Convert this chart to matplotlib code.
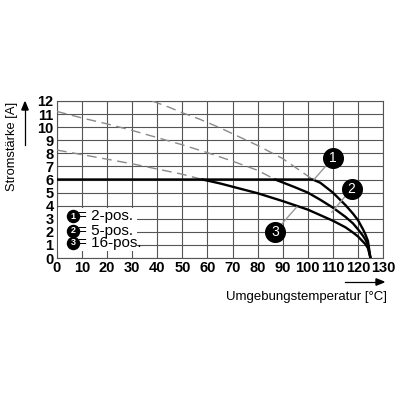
import numpy as np
import matplotlib.pyplot as plt

plt.rcParams['font.family'] = ['Liberation Sans', 'DejaVu Sans']

# curve 1 (2-pos.)
t1_dash = [38, 45, 50, 57, 65, 70, 80, 90, 102]
i1_dash = [12.0, 11.5, 11.1, 10.6, 9.95, 9.5, 8.6, 7.6, 6.0]
t1 = [0, 102, 105, 110, 115, 118, 120, 122, 123, 124, 125]
i1 = [6.0, 6.0, 5.75, 5.0, 4.05, 3.4, 2.9, 2.2, 1.8, 1.3, 0.0]

# curve 2 (5-pos.)
t2_dash = [0, 10, 20, 30, 40, 50, 60, 70, 80, 87]
i2_dash = [11.2, 10.7, 10.25, 9.75, 9.2, 8.65, 8.05, 7.4, 6.7, 6.0]
t2 = [87, 95, 100, 105, 110, 115, 118, 120, 122, 123, 124, 125]
i2 = [6.0, 5.4, 5.0, 4.45, 3.85, 3.15, 2.65, 2.2, 1.7, 1.4, 1.0, 0.0]

# curve 3 (16-pos.)
t3_dash = [0, 10, 20, 30, 40, 50, 58]
i3_dash = [8.25, 7.9, 7.55, 7.2, 6.8, 6.4, 6.0]
t3 = [58, 65, 70, 80, 90, 100, 110, 115, 118, 120, 122, 123, 124, 125]
i3 = [6.0, 5.7, 5.45, 4.95, 4.35, 3.7, 2.85, 2.35, 1.95, 1.65, 1.25, 1.05, 0.75, 0.0]

legend_txt = ['= 2-pos.', '= 5-pos.', '= 16-pos.']
xticks = np.arange(0, 131, 10)
yticks = np.arange(0, 13, 1)

fig = plt.figure(figsize=(4, 4), dpi=100)
ax = fig.add_axes([0.1425, 0.355, 0.815, 0.3925])
ax.set_xlim(0, 130)
ax.set_ylim(0, 12)
ax.set_xticks(xticks)
ax.set_yticks(yticks)
ax.grid(True, color='#555555', lw=0.8)
for s in ax.spines.values():
    s.set_color('#555555')
    s.set_linewidth(0.8)
ax.tick_params(length=0, pad=2.5, labelsize=10.5)
for lb in ax.get_xticklabels() + ax.get_yticklabels():
    lb.set_fontweight('bold')

dash_kw = dict(color='#8a8a8a', lw=1.0, dashes=(7, 4), zorder=3)
ax.plot(t1_dash, i1_dash, **dash_kw)
ax.plot(t2_dash, i2_dash, **dash_kw)
ax.plot(t3_dash, i3_dash, **dash_kw)
ax.plot(t1, i1, color='black', lw=1.7, zorder=4)
ax.plot(t2, i2, color='black', lw=1.7, zorder=4)
ax.plot(t3, i3, color='black', lw=1.7, zorder=4)

# legend box
ax.add_patch(plt.Rectangle((0.4, 0.5), 31.5, 3.3, facecolor='white', edgecolor='none', zorder=5))
for k, (y, txt) in enumerate(zip([3.2, 2.1, 1.15], legend_txt)):
    ax.scatter([6.4], [y], s=75, color='black', zorder=6)
    ax.text(6.4, y, str(k + 1), color='white', fontsize=6.5, fontweight='bold',
            ha='center', va='center', zorder=7)
    ax.text(8.2, y, txt, fontsize=11, ha='left', va='center', zorder=7)

# callouts
callouts = [(110, 7.65, 102.5, 6.0), (117.5, 5.3, 109.6, 3.5), (86.9, 2.0, 95.6, 3.9)]
for k, (cx, cy, px, py) in enumerate(callouts):
    ax.plot([cx, px], [cy, py], color='#999999', lw=1.0, zorder=5)
    ax.scatter([cx], [cy], s=200, color='black', zorder=6, clip_on=False)
    ax.text(cx, cy, str(k + 1), color='white', fontsize=10, ha='center', va='center', zorder=7)

# axis labels with arrows
fig.text(0.03, 0.635, 'Stromstärke [A]', rotation=90, fontsize=9.3, ha='center', va='center')
fig.add_artist(plt.Line2D([0.0625, 0.0625], [0.6375, 0.73], color='black', lw=0.9))
fig.text(0.765, 0.257, 'Umgebungstemperatur [°C]', fontsize=9.5, ha='center', va='center')
fig.add_artist(plt.Line2D([0.862, 0.945], [0.295, 0.295], color='black', lw=0.9))
fig.patches.append(plt.Polygon([[0.0545, 0.725], [0.0705, 0.725], [0.0625, 0.745]],
                               closed=True, color='black', transform=fig.transFigure, figure=fig))
fig.patches.append(plt.Polygon([[0.94, 0.287], [0.94, 0.303], [0.96, 0.295]],
                               closed=True, color='black', transform=fig.transFigure, figure=fig))

fig.savefig('out.png', dpi=100)
